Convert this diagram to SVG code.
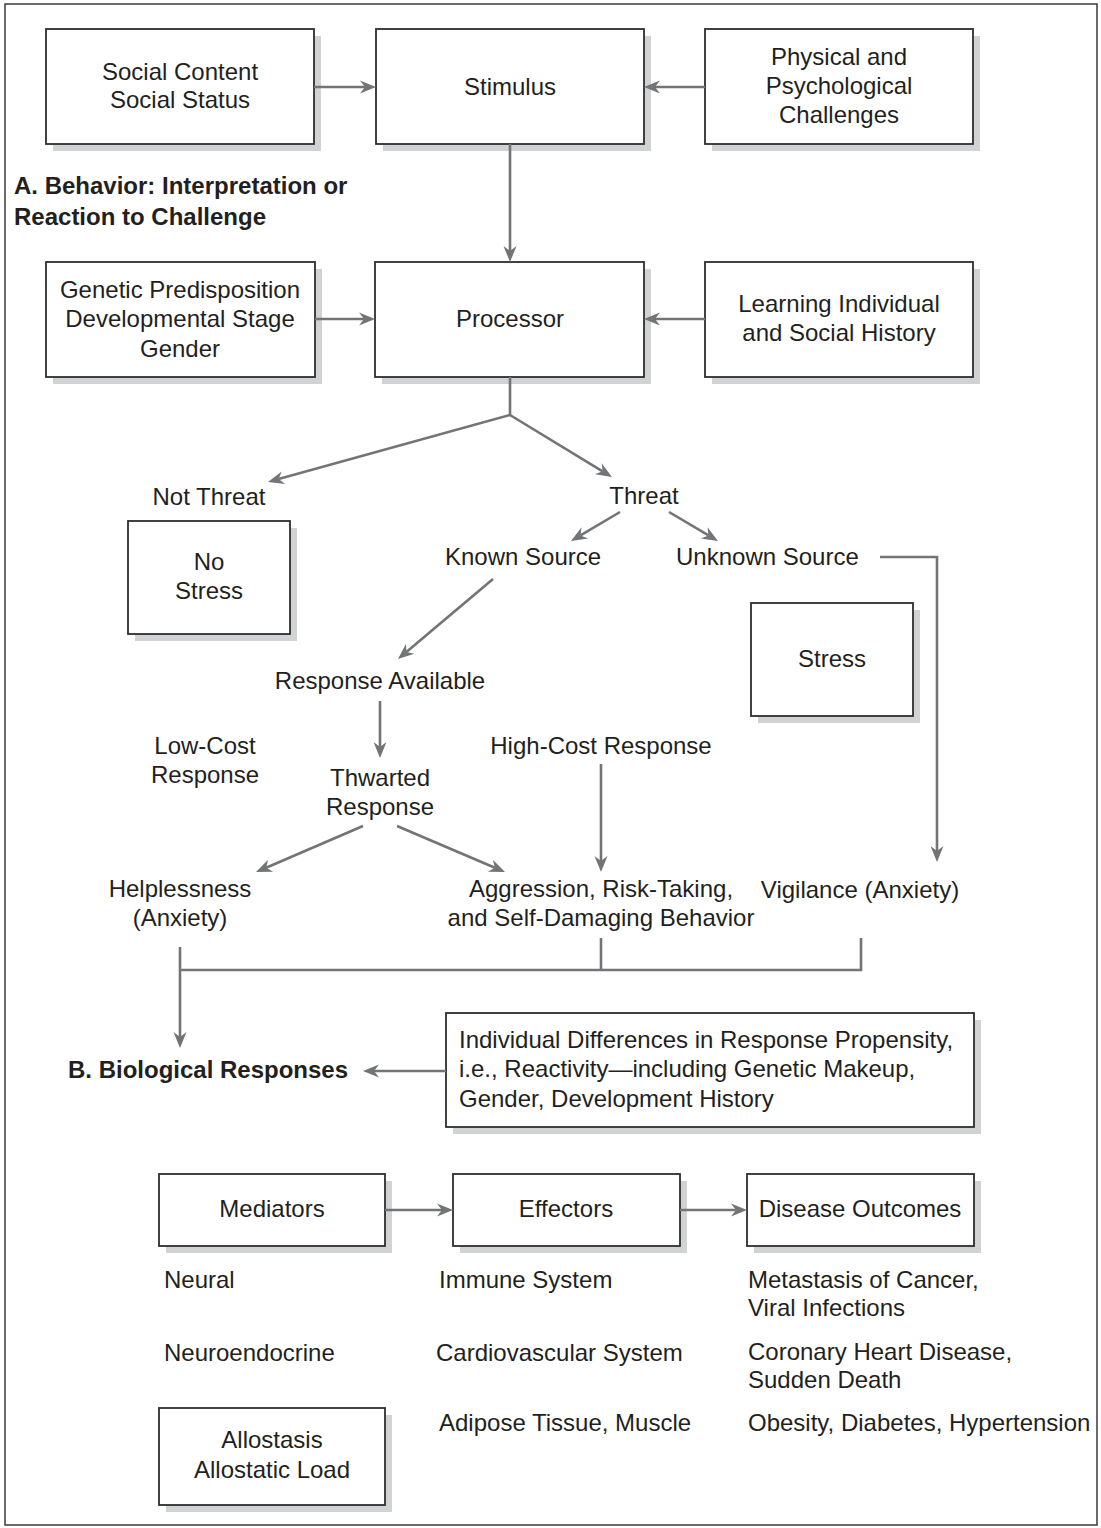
<svg xmlns="http://www.w3.org/2000/svg" width="1101" height="1528" viewBox="0 0 1101 1528">
<style>
text{font-family:"Liberation Sans",Arial,Helvetica,sans-serif;font-size:24px;fill:#231f20}
.c{text-anchor:middle}
.b{font-weight:bold}
.box{fill:#fff;stroke:#2e2e2e;stroke-width:1.8}
.sh{fill:#d1d2d4}
.ln{fill:none;stroke:#737477;stroke-width:2.6}
.ar{marker-end:url(#ah)}
</style>
<defs>
<marker id="ah" viewBox="-6 -8 19 16" refX="0" refY="0" markerWidth="19" markerHeight="16" markerUnits="userSpaceOnUse" orient="auto">
<path d="M11,0 L-5,-6.5 L0,0 L-5,6.5 Z" fill="#737477"/>
</marker>
</defs>
<rect x="0" y="0" width="1101" height="1528" fill="#fff"/>
<rect x="5" y="4" width="1092" height="1521" fill="none" stroke="#3a3a3a" stroke-width="1.5"/>

<g id="social">
<rect class="sh" x="53" y="36" width="268" height="115"/>
<rect class="box" x="46" y="29" width="268" height="115"/>
<text class="c" x="180" y="80">Social Content</text>
<text class="c" x="180" y="108">Social Status</text>
</g>
<g id="stimulus">
<rect class="sh" x="383" y="36" width="268" height="115"/>
<rect class="box" x="376" y="29" width="268" height="115"/>
<text class="c" x="510" y="95">Stimulus</text>
</g>
<g id="physical">
<rect class="sh" x="712" y="36" width="268" height="115"/>
<rect class="box" x="705" y="29" width="268" height="115"/>
<text class="c" x="839" y="65">Physical and</text>
<text class="c" x="839" y="94">Psychological</text>
<text class="c" x="839" y="123">Challenges</text>
</g>
<g id="titleA">
<text class="b" x="14" y="194">A. Behavior: Interpretation or</text>
<text class="b" x="14" y="225">Reaction to Challenge</text>
</g>
<g id="genetic">
<rect class="sh" x="53" y="269" width="269" height="115"/>
<rect class="box" x="46" y="262" width="269" height="115"/>
<text class="c" x="180" y="298">Genetic Predisposition</text>
<text class="c" x="180" y="327">Developmental Stage</text>
<text class="c" x="180" y="357">Gender</text>
</g>
<g id="processor">
<rect class="sh" x="382" y="269" width="269" height="115"/>
<rect class="box" x="375" y="262" width="269" height="115"/>
<text class="c" x="510" y="327">Processor</text>
</g>
<g id="learning">
<rect class="sh" x="712" y="269" width="268" height="115"/>
<rect class="box" x="705" y="262" width="268" height="115"/>
<text class="c" x="839" y="312">Learning Individual</text>
<text class="c" x="839" y="341">and Social History</text>
</g>
<g id="notthreat">
<text class="c" x="209" y="505">Not Threat</text>
</g>
<g id="nostress">
<rect class="sh" x="135" y="528" width="162" height="113"/>
<rect class="box" x="128" y="521" width="162" height="113"/>
<text class="c" x="209" y="570">No</text>
<text class="c" x="209" y="599">Stress</text>
</g>
<g id="threat">
<text class="c" x="644" y="504">Threat</text>
</g>
<g id="known">
<text x="445" y="565">Known Source</text>
</g>
<g id="unknown">
<text x="676" y="565">Unknown Source</text>
</g>
<g id="stress">
<rect class="sh" x="758" y="610" width="162" height="113"/>
<rect class="box" x="751" y="603" width="162" height="113"/>
<text class="c" x="832" y="667">Stress</text>
</g>
<g id="respavail">
<text class="c" x="380" y="689">Response Available</text>
</g>
<g id="lowcost">
<text class="c" x="205" y="754">Low-Cost</text>
<text class="c" x="205" y="783">Response</text>
</g>
<g id="thwarted">
<text class="c" x="380" y="786">Thwarted</text>
<text class="c" x="380" y="815">Response</text>
</g>
<g id="highcost">
<text class="c" x="601" y="754">High-Cost Response</text>
</g>
<g id="helpless">
<text class="c" x="180" y="897">Helplessness</text>
<text class="c" x="180" y="926">(Anxiety)</text>
</g>
<g id="aggression">
<text class="c" x="601" y="897">Aggression, Risk-Taking,</text>
<text class="c" x="601" y="926">and Self-Damaging Behavior</text>
</g>
<g id="vigilance">
<text class="c" x="860" y="898">Vigilance (Anxiety)</text>
</g>
<g id="titleB">
<text class="b" x="68" y="1078">B. Biological Responses</text>
</g>
<g id="individual">
<rect class="sh" x="453" y="1020" width="528" height="114"/>
<rect class="box" x="446" y="1013" width="528" height="114"/>
<text x="459" y="1048">Individual Differences in Response Propensity,</text>
<text x="459" y="1077">i.e., Reactivity—including Genetic Makeup,</text>
<text x="459" y="1107">Gender, Development History</text>
</g>
<g id="mediators">
<rect class="sh" x="166" y="1181" width="226" height="72"/>
<rect class="box" x="159" y="1174" width="226" height="72"/>
<text class="c" x="272" y="1217">Mediators</text>
</g>
<g id="effectors">
<rect class="sh" x="460" y="1181" width="227" height="72"/>
<rect class="box" x="453" y="1174" width="227" height="72"/>
<text class="c" x="566" y="1217">Effectors</text>
</g>
<g id="disease">
<rect class="sh" x="754" y="1181" width="227" height="72"/>
<rect class="box" x="747" y="1174" width="227" height="72"/>
<text class="c" x="860" y="1217">Disease Outcomes</text>
</g>
<g id="mediatorlist">
<text x="164" y="1288">Neural</text>
<text x="164" y="1361">Neuroendocrine</text>
</g>
<g id="effectorlist">
<text x="439" y="1288">Immune System</text>
<text x="436" y="1361">Cardiovascular System</text>
<text x="439" y="1431">Adipose Tissue, Muscle</text>
</g>
<g id="diseaselist">
<text x="748" y="1288">Metastasis of Cancer,</text>
<text x="748" y="1316">Viral Infections</text>
<text x="748" y="1360">Coronary Heart Disease,</text>
<text x="748" y="1388">Sudden Death</text>
<text x="748" y="1431">Obesity, Diabetes, Hypertension</text>
</g>
<g id="allostasis">
<rect class="sh" x="166" y="1415" width="226" height="97"/>
<rect class="box" x="159" y="1408" width="226" height="97"/>
<text class="c" x="272" y="1448">Allostasis</text>
<text class="c" x="272" y="1478">Allostatic Load</text>
</g>

<g id="connectors">
<line class="ln ar" x1="314" y1="87" x2="365" y2="87"/>
<line class="ln ar" x1="705" y1="87" x2="655" y2="87"/>
<line class="ln ar" x1="510" y1="144" x2="510" y2="251"/>
<line class="ln ar" x1="315" y1="319" x2="364" y2="319"/>
<line class="ln ar" x1="705" y1="319" x2="655" y2="319"/>
<polyline class="ln" points="510,377 510,415"/>
<line class="ln ar" x1="510" y1="415" x2="278.6" y2="479.1"/>
<line class="ln ar" x1="510" y1="415" x2="602.6" y2="471.3"/>
<line class="ln ar" x1="620" y1="512" x2="580.5" y2="535.4"/>
<line class="ln ar" x1="669" y1="512" x2="708.5" y2="535.4"/>
<line class="ln ar" x1="493" y1="579" x2="406.4" y2="651.9"/>
<polyline class="ln ar" points="880,557 937,557 937,851"/>
<line class="ln ar" x1="380" y1="701" x2="380" y2="747"/>
<line class="ln ar" x1="601" y1="764" x2="601" y2="861"/>
<line class="ln ar" x1="363" y1="826" x2="266.1" y2="867.7"/>
<line class="ln ar" x1="397" y1="826" x2="494.9" y2="867.7"/>
<line class="ln ar" x1="180" y1="947" x2="180" y2="1037"/>
<polyline class="ln" points="180,970 861,970 861,938"/>
<line class="ln" x1="601" y1="938" x2="601" y2="970"/>
<line class="ln ar" x1="446" y1="1071" x2="374" y2="1071"/>
<line class="ln ar" x1="385" y1="1210" x2="442" y2="1210"/>
<line class="ln ar" x1="680" y1="1210" x2="736" y2="1210"/>
</g>
</svg>
